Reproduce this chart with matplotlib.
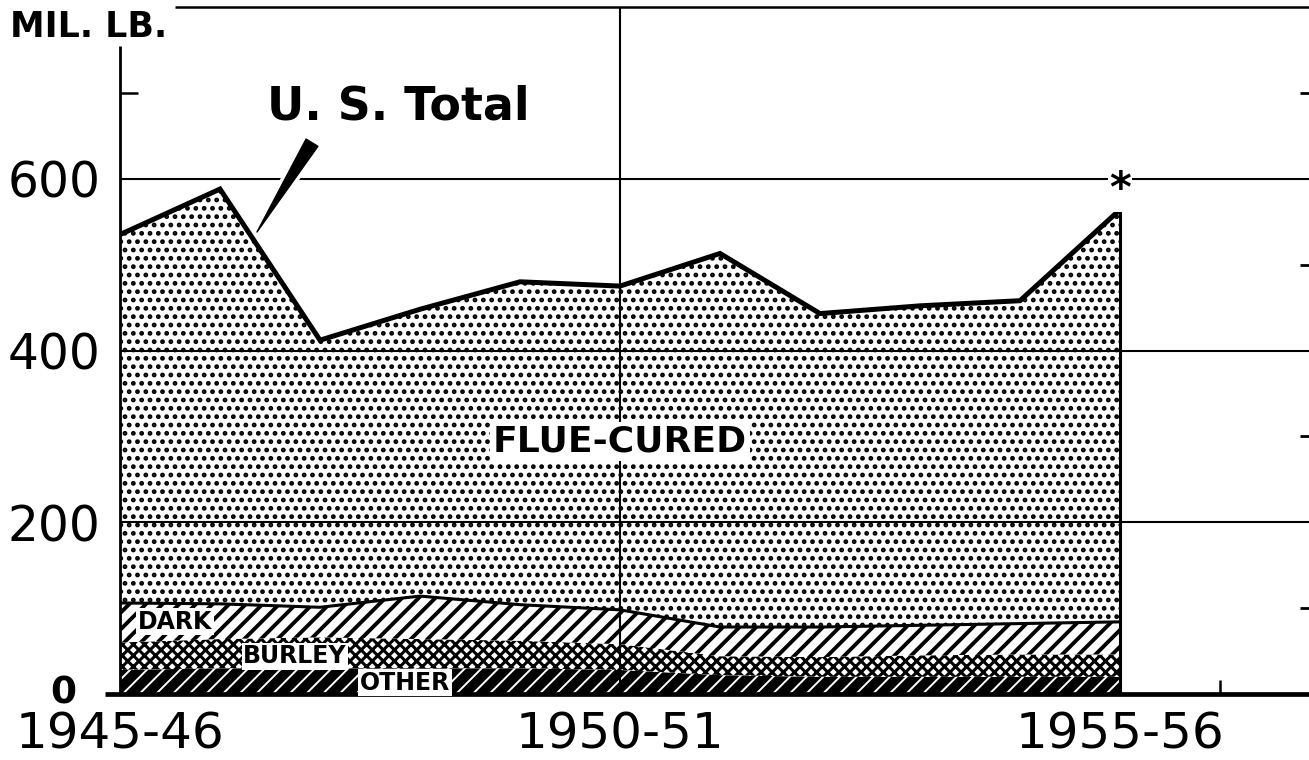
import matplotlib
matplotlib.use("Agg")
import matplotlib.pyplot as plt
import matplotlib.patheffects as pe
import numpy as np

# ---- data (million lb., exports by type) ----
years = [1945, 1946, 1947, 1948, 1949, 1950, 1951, 1952, 1953, 1954, 1955]
other = [28, 30, 30, 30, 30, 28, 22, 20, 20, 20, 20]
burley = [32, 34, 36, 34, 32, 30, 22, 23, 25, 26, 26]
dark = [46, 41, 35, 50, 42, 40, 34, 35, 35, 36, 38]
flue_cured = [429, 483, 311, 334, 376, 377, 435, 365, 372, 376, 480]

x_tick_years = [1945, 1950, 1955]
x_tick_labels = ["1945-46", "1950-51", "1955-56"]
y_ticks = [200, 400, 600]
y_tick_labels = ["200", "400", "600"]
grid_values = [200, 400, 600]
minor_ticks = [100, 300, 500, 700]

plt.rcParams["font.family"] = ["DejaVu Sans"]
plt.rcParams["hatch.linewidth"] = 1.6

W, H = 1309, 760
fig = plt.figure(figsize=(W / 100, H / 100), dpi=100)
ax = fig.add_axes([120 / W, 66 / H, 1189 / W, 687 / H])
xmax = 1945 + 1189 / 100
ax.set_xlim(1945, xmax)
ax.set_ylim(0, 800)
for s in ax.spines.values():
    s.set_visible(False)

x = np.array(years, float)
c1 = np.array(other, float)
c2 = c1 + np.array(burley)
c3 = c2 + np.array(dark)
c4 = c3 + np.array(flue_cured)


def set_hlw(coll, lw):
    if hasattr(coll, "set_hatch_linewidth"):
        coll.set_hatch_linewidth(lw)


# OTHER: black with white dashes
ax.fill_between(x, 0, c1, facecolor="black", linewidth=0, zorder=1)
h = ax.fill_between(x, 0, c1, facecolor="none", edgecolor="white", hatch="//",
                    linewidth=0, zorder=1.1)
set_hlw(h, 1.4)
# BURLEY: white diamonds in black
h = ax.fill_between(x, c1, c2, facecolor="white", edgecolor="black", hatch="xxx",
                    linewidth=0, zorder=1)
set_hlw(h, 2.2)
# DARK: diagonal hatch
h = ax.fill_between(x, c2, c3, facecolor="white", edgecolor="black", hatch="//",
                    linewidth=0, zorder=1)
set_hlw(h, 2.8)
# FLUE-CURED: dots
h = ax.fill_between(x, c3, c4, facecolor="white", edgecolor="black", hatch="..",
                    linewidth=0, zorder=1)
set_hlw(h, 2.2)

ax.plot(x, c4, color="black", lw=3.6, solid_joinstyle="miter", zorder=4)
ax.plot(x, c3, color="black", lw=2.2, zorder=4)
ax.vlines(x[-1], 0, c4[-1], color="black", lw=2.2, zorder=4)

# grid and frame lines
ax.hlines(grid_values, 1945, xmax, color="black", lw=1.5, zorder=3, clip_on=False)
ax.vlines(1950, 0, 800, color="black", lw=1.5, zorder=3, clip_on=False)
ax.hlines(800, 1945.55, xmax, color="black", lw=1.8, zorder=3, clip_on=False)
ax.vlines(1945, 0, 755, color="black", lw=2.0, zorder=4, clip_on=False)
ax.hlines(0, 1944.85, xmax, color="black", lw=3.4, zorder=5, clip_on=False)
ax.vlines(1956, 0, 16, color="black", lw=1.8, zorder=5)
ax.hlines(minor_ticks, xmax - 0.09, xmax, color="black", lw=2.0, zorder=5, clip_on=False)
ax.hlines(700, 1945, 1945.18, color="black", lw=1.8, zorder=5)

# ticks
ax.set_xticks(x_tick_years, x_tick_labels, fontsize=36)
ax.set_yticks(y_ticks, y_tick_labels, fontsize=35)
ax.tick_params(axis="x", length=0, pad=12)
ax.tick_params(axis="y", length=0, pad=14)
ax.text(-57 / 1189, 0, "0", transform=ax.get_yaxis_transform(), ha="center",
        va="center", fontsize=27, fontweight="bold")

# labels
fig.text(10 / W, 1 - 27 / H, "MIL. LB.", fontsize=25, fontweight="bold",
         ha="left", va="center")
ax.text(1947.78, 683, "U. S. Total", fontsize=33, fontweight="bold",
        ha="center", va="center", zorder=6)
ax.annotate("", xy=(1946.37, 538), xytext=(1946.92, 642),
            arrowprops=dict(arrowstyle="wedge,tail_width=1.0,shrink_factor=0.5",
                            color="black", shrinkA=0, shrinkB=0,
                            path_effects=[pe.withStroke(linewidth=6, foreground="white")]),
            zorder=6)
ax.text(1955, 592, "*", fontsize=30, fontweight="bold", ha="center",
        va="center_baseline", zorder=6,
        bbox=dict(facecolor="white", edgecolor="none", pad=1))

ax.text(1950, 294, "FLUE-CURED", fontsize=26, fontweight="bold", ha="center",
        va="center", zorder=6, bbox=dict(facecolor="white", edgecolor="none", pad=2))
small_box = dict(facecolor="white", edgecolor="none", pad=1)
ax.text(1945.55, 84, "DARK", fontsize=17, fontweight="bold", ha="center",
        va="center", zorder=6, bbox=small_box)
ax.text(1946.75, 44, "BURLEY", fontsize=17, fontweight="bold", ha="center",
        va="center", zorder=6, bbox=small_box)
ax.text(1947.85, 13, "OTHER", fontsize=17, fontweight="bold", ha="center",
        va="center", zorder=6, bbox=small_box)

fig.savefig("out.png", dpi=100)
